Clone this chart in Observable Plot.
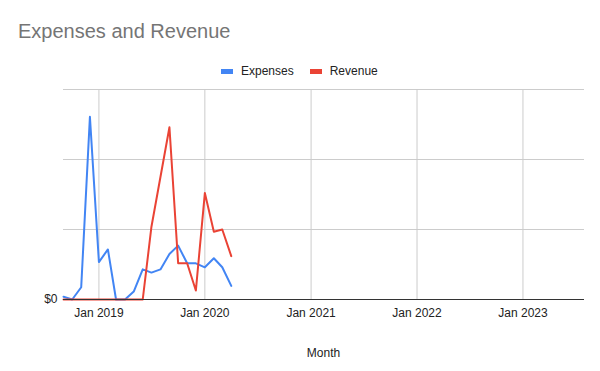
<!DOCTYPE html>
<html>
<head>
<meta charset="utf-8">
<script src="https://cdn.jsdelivr.net/npm/d3@7"></script>
<script src="https://cdn.jsdelivr.net/npm/@observablehq/plot@0.6"></script>
<style>
  body { margin: 0; background: #fff; }
  #wrap { position: relative; width: 600px; height: 371px; font-family: "Liberation Sans", Arial, sans-serif; }
  #title { position: absolute; left: 18px; top: 21px; font-size: 20px; line-height: 20px; color: #757575; white-space: nowrap; }
  #legend { position: absolute; left: 221px; top: 65px; font-size: 12px; line-height: 12px; color: #222; white-space: nowrap; display: flex; align-items: center; }
  .sw { display: inline-block; width: 12px; height: 5px; margin-right: 8px; }
  .item { display: flex; align-items: center; margin-right: 16px; }
  #xlabel { position: absolute; left: 0; width: 647px; text-align: center; top: 347px; font-size: 12px; line-height: 12px; color: #222; }
  #chart { position: absolute; left: 0; top: 0; }
</style>
</head>
<body>
<div id="wrap">
  <div id="chart"></div>
  <div id="title">Expenses and Revenue</div>
  <div id="legend"></div>
  <div id="xlabel">Month</div>
</div>
<script>
const months = ["2018-09","2018-10","2018-11","2018-12","2019-01","2019-02","2019-03","2019-04","2019-05","2019-06","2019-07","2019-08","2019-09","2019-10","2019-11","2019-12","2020-01","2020-02","2020-03","2020-04"];
const expenses = [40, 0, 175, 2610, 535, 715, 0, 0, 114, 430, 384, 430, 650, 770, 517, 517, 460, 590, 460, 194];
const revenue  = [0, 0, 0, 0, 0, 0, 0, 0, 0, 0, 1040, 1750, 2460, 517, 517, 128, 1520, 967, 1000, 620];
const seriesNames = ["Expenses", "Revenue"];
const seriesColors = ["#4285F4", "#EA4335"];
const yearTicks = ["2019-01","2020-01","2021-01","2022-01","2023-01"];
const gridValues = [1000, 2000, 3000];

const parse = d3.utcParse("%Y-%m");
const rows = [];
months.forEach((m, i) => {
  rows.push({date: parse(m), value: expenses[i], series: seriesNames[0]});
  rows.push({date: parse(m), value: revenue[i], series: seriesNames[1]});
});
const ticks = yearTicks.map(parse);
const fmt = d3.utcFormat("Jan %Y");

const plot = Plot.plot({
  width: 600,
  height: 371,
  marginLeft: 63,
  marginRight: 16,
  marginTop: 89,
  marginBottom: 72,
  style: { fontFamily: '"Liberation Sans", Arial, sans-serif', fontSize: "12px", color: "#222", background: "transparent" },
  x: { type: "utc", domain: [parse("2018-09"), parse("2023-08")] },
  y: { domain: [0, 3000] },
  color: { domain: seriesNames, range: seriesColors },
  marks: [
    Plot.ruleY(gridValues, { stroke: "#cccccc", strokeWidth: 1 }),
    Plot.ruleX(ticks, { stroke: "#cccccc", strokeWidth: 1 }),
    Plot.lineY(rows, { x: "date", y: "value", z: "series", stroke: "series", strokeWidth: 2 }),
    Plot.ruleY([0], { stroke: "#333333", strokeWidth: 1 }),
    Plot.axisX({ ticks: ticks, tickFormat: fmt, tickSize: 0, tickPadding: 9, label: null, fontSize: 12, fill: "#222" }),
    Plot.axisY({ ticks: [0], tickFormat: d => "$" + d, tickSize: 0, tickPadding: 6, label: null, fontSize: 12, fill: "#222" })
  ]
});
document.getElementById("chart").appendChild(plot);

const legend = document.getElementById("legend");
seriesNames.forEach((name, i) => {
  const item = document.createElement("span");
  item.className = "item";
  const sw = document.createElement("span");
  sw.className = "sw";
  sw.style.background = seriesColors[i];
  item.appendChild(sw);
  item.appendChild(document.createTextNode(name));
  legend.appendChild(item);
});
</script>
</body>
</html>
